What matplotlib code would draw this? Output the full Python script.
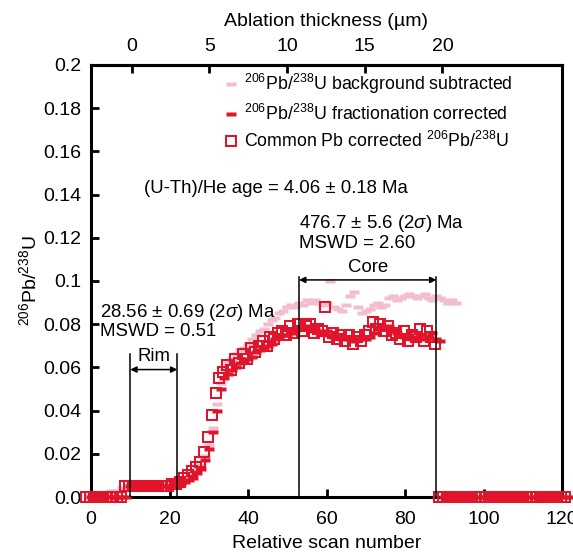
import matplotlib
matplotlib.use("Agg")
import matplotlib.pyplot as plt
from matplotlib.transforms import offset_copy

plt.rcParams['font.family'] = ['Liberation Sans', 'DejaVu Sans']
plt.rcParams['mathtext.fontset'] = 'custom'
plt.rcParams['mathtext.rm'] = 'Liberation Sans'
plt.rcParams['mathtext.it'] = 'Liberation Sans:italic'

# ---------------- data ----------------
bg_scans = list(range(0, 94))
bg_values = [0.001, 0.001, 0.002, 0.002, 0.002, 0.003, 0.003, 0.003, 0.004, 0.004,
             0.006, 0.006, 0.006, 0.007, 0.006, 0.006, 0.007, 0.006, 0.006, 0.007, 0.006, 0.006,
             0.007, 0.007, 0.008, 0.009, 0.011, 0.013,
             0.015, 0.019, 0.024, 0.032, 0.043, 0.053,
             0.059, 0.062, 0.064, 0.066, 0.068, 0.069, 0.071, 0.073, 0.075, 0.077, 0.078, 0.080, 0.082,
             0.083, 0.085, 0.086, 0.088, 0.089, 0.088, 0.090, 0.089, 0.091, 0.090,
             0.091, 0.090, 0.089, 0.090, 0.100, 0.088, 0.087, 0.086, 0.089, 0.093, 0.095, 0.088, 0.085, 0.086, 0.087,
             0.089, 0.090, 0.088, 0.089, 0.092, 0.093, 0.091,
             0.092, 0.093, 0.094, 0.093, 0.092, 0.093, 0.094, 0.092, 0.091, 0.093, 0.092, 0.091, 0.090, 0.091, 0.090]

fc_scans = list(range(0, 90))
fc_values = [0.0, 0.0, 0.0, 0.0, 0.0, 0.0, 0.0, 0.0, 0.0, 0.0,
             0.005, 0.005, 0.005, 0.005, 0.005, 0.005, 0.005, 0.005, 0.005, 0.005, 0.005, 0.005,
             0.005, 0.006, 0.007, 0.008, 0.009, 0.011,
             0.013, 0.017, 0.022, 0.030, 0.040, 0.050,
             0.055, 0.057, 0.059, 0.060, 0.062, 0.063, 0.064, 0.065, 0.067, 0.068, 0.069, 0.070, 0.071,
             0.073, 0.074, 0.075, 0.075, 0.076, 0.077, 0.078, 0.078, 0.079, 0.077,
             0.078, 0.077, 0.076, 0.077, 0.075, 0.074, 0.075, 0.073, 0.074, 0.073, 0.072, 0.073, 0.074, 0.073, 0.074,
             0.076, 0.078, 0.079, 0.078, 0.079, 0.077, 0.076,
             0.075, 0.074, 0.075, 0.073, 0.074, 0.075, 0.073, 0.074, 0.076, 0.073, 0.072]

cp_scans = list(range(0, 90))
cp_values = [0.0, 0.0, 0.0, 0.0, 0.0, 0.0, 0.0, 0.0, 0.0, 0.0,
             0.005, 0.005, 0.005, 0.005, 0.005, 0.005, 0.005, 0.005, 0.005, 0.005, 0.005, 0.005,
             0.006, 0.006, 0.007, 0.009, 0.010, 0.012,
             0.014, 0.016, 0.021, 0.028, 0.038, 0.048,
             0.055, 0.058, 0.061, 0.059, 0.064, 0.062, 0.066, 0.064, 0.069, 0.067, 0.070, 0.072, 0.070,
             0.074, 0.073, 0.076, 0.077, 0.075, 0.079, 0.076, 0.080, 0.077, 0.079,
             0.080, 0.076, 0.078, 0.077, 0.088, 0.074, 0.076, 0.073, 0.075, 0.072, 0.075, 0.071, 0.074, 0.072, 0.075,
             0.077, 0.081, 0.078, 0.080, 0.077, 0.079, 0.075,
             0.076, 0.073, 0.077, 0.072, 0.075, 0.074, 0.078, 0.072, 0.077, 0.074, 0.071]

tail_scans = list(range(90, 123))
tail_values = [0.0, 0.0, 0.0, 0.0, 0.0, 0.0, 0.0, 0.0, 0.0, 0.0,
               0.0, 0.0, 0.0, 0.0, 0.0, 0.0, 0.0, 0.0, 0.0, 0.0,
               0.0, 0.0, 0.0, 0.0, 0.0, 0.0, 0.0, 0.0, 0.0, 0.0,
               0.0, 0.0, 0.0]

rim_bounds = [10, 22]
core_bounds = [53, 88]
rim_arrow_y = 0.059
rim_top_y = 0.066
core_arrow_y = 0.1005
core_top_y = 0.102

x_ticks = [0, 20, 40, 60, 80, 100, 120]
y_ticks = [0.0, 0.02, 0.04, 0.06, 0.08, 0.1, 0.12, 0.14, 0.16, 0.18, 0.2]
y_tick_labels = ['0.0', '0.02', '0.04', '0.06', '0.08', '0.1', '0.12', '0.14', '0.16', '0.18', '0.2']
top_ticks = [0, 5, 10, 15, 20]
thickness_origin_scan = 10.35
scans_per_um = 3.96

label_bg = r'$^{206}$Pb/$^{238}$U background subtracted'
label_fc = r'$^{206}$Pb/$^{238}$U fractionation corrected'
label_cp = r'Common Pb corrected $^{206}$Pb/$^{238}$U'

# ---------------- style ----------------
RED = '#E0142B'
PINK = '#F2BDCD'
FS_TICK = 14
FS_LABEL = 14
FS_TEXT = 13.4
FS_LEG = 12.8
rect = [(-1, -0.42), (1, -0.42), (1, 0.42), (-1, 0.42), (-1, -0.42)]

fig = plt.figure(figsize=(5.73, 5.56), dpi=100)
ax = fig.add_axes([91/573, 1-497/556, (562-91)/573, (497-65)/556])

ax.plot(bg_scans, bg_values, ls='none', marker=rect, ms=7.4, mfc=PINK, mec='none',
        label=label_bg, clip_on=False, zorder=2)
ax.plot(fc_scans + tail_scans, fc_values + tail_values, ls='none', marker=rect, ms=6.8,
        mfc=RED, mec='none', label=label_fc, clip_on=False, zorder=3)
sq_tr = offset_copy(ax.transData, fig=fig, x=-5, y=0, units='dots')
ax.plot(cp_scans + tail_scans, cp_values + tail_values, ls='none', marker='s', ms=6.6,
        mfc='none', mec=RED, mew=1.45, label=label_cp, clip_on=False, zorder=4,
        transform=sq_tr)

ax.set_xlim(0, 120)
ax.set_ylim(0, 0.2)
ax.set_xticks(x_ticks)
ax.set_yticks(y_ticks)
ax.set_yticklabels(y_tick_labels)
ax.tick_params(direction='in', length=6, width=2, labelsize=FS_TICK)
ax.tick_params(axis='x', pad=10)
ax.tick_params(axis='y', pad=7)
for s in ax.spines.values():
    s.set_linewidth(2.2)

ax.set_xlabel('Relative scan number', fontsize=FS_LABEL, labelpad=5)
ax.set_ylabel(r'$^{206}$Pb/$^{238}$U', fontsize=FS_LABEL, labelpad=2)

sec = ax.secondary_xaxis('top', functions=(lambda s: (s - thickness_origin_scan) / scans_per_um,
                                           lambda t: t * scans_per_um + thickness_origin_scan))
sec.set_xticks(top_ticks)
sec.tick_params(direction='in', length=6, width=2, labelsize=FS_TICK, pad=7)
sec.set_xlabel('Ablation thickness (µm)', fontsize=FS_LABEL, labelpad=9)
sec.spines['top'].set_linewidth(2.2)

# Rim / Core brackets
for xb in rim_bounds:
    ax.plot([xb, xb], [0, rim_top_y], color='black', lw=1.1, zorder=5)
for xb in core_bounds:
    ax.plot([xb, xb], [0, core_top_y], color='black', lw=1.1, zorder=5)
ap = dict(arrowstyle='<|-|>', color='black', lw=1.1, mutation_scale=9, shrinkA=0, shrinkB=0)
ax.annotate('', xy=(rim_bounds[0], rim_arrow_y), xytext=(rim_bounds[1], rim_arrow_y), arrowprops=ap, zorder=5)
ax.annotate('', xy=(core_bounds[0], core_arrow_y), xytext=(core_bounds[1], core_arrow_y), arrowprops=ap, zorder=5)
ax.text(sum(rim_bounds)/2, rim_arrow_y + 0.002, 'Rim', ha='center', va='bottom', fontsize=FS_TEXT)
ax.text(sum(core_bounds)/2, core_arrow_y + 0.002, 'Core', ha='center', va='bottom', fontsize=FS_TEXT)

ax.text(2.2, 0.0815, '28.56 ± 0.69 (2$\\sigma$) Ma\nMSWD = 0.51', ha='left', va='center',
        fontsize=FS_TEXT, linespacing=1.05)
ax.text(53, 0.1225, '476.7 ± 5.6 (2$\\sigma$) Ma\nMSWD = 2.60', ha='left', va='center',
        fontsize=FS_TEXT, linespacing=1.05)
ax.text(13.6, 0.143, '(U-Th)/He age = 4.06 ± 0.18 Ma', ha='left', va='center', fontsize=FS_TEXT)

leg = ax.legend(loc='upper left', bbox_to_anchor=(0.27, 1.0), frameon=False, fontsize=FS_LEG,
                handlelength=0.6, handletextpad=0.45, labelspacing=0.42, borderaxespad=0)

fig.savefig('out.png', dpi=100)
